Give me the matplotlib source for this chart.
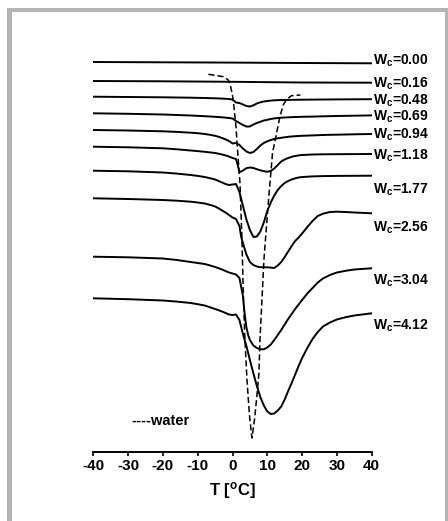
import matplotlib
matplotlib.use("Agg")
import matplotlib.pyplot as plt
from matplotlib.patches import Rectangle

plt.rcParams['font.family'] = ['Liberation Sans', 'DejaVu Sans']
plt.rcParams['font.weight'] = 'bold'
plt.rcParams['mathtext.fontset'] = 'custom'
plt.rcParams['mathtext.rm'] = 'Liberation Sans:bold'
plt.rcParams['mathtext.it'] = 'Liberation Sans:bold'
plt.rcParams['mathtext.bf'] = 'Liberation Sans:bold'
plt.rcParams['axes.unicode_minus'] = False

# DSC traces: temperature [C] and heat flow (arb. units, curves shifted vertically)
t_000 = [-40, -20, 0, 20, 40]
h_000 = [390.0, 389.7, 389.4, 389.0, 388.7]

t_016 = [-40, -20, 0, 20, 40]
h_016 = [371.0, 370.7, 370.2, 369.5, 369.3]

t_048 = [-40, -30, -20, -12, -8, -5, -3, -1, 0, 1, 2, 3, 4, 5, 6, 7, 8, 9, 10,
         11, 12, 14, 16, 18, 20, 23, 26, 30, 35, 40]
h_048 = [355.3, 355.0, 354.7, 354.3, 354.0, 353.7, 353.4, 353.0, 352.5, 349.5,
         349.0, 347.5, 346.0, 345.5, 346.7, 348.5, 349.7, 350.5, 351.0, 351.4,
         351.7, 352.0, 352.1, 352.2, 352.3, 352.4, 352.5, 352.6, 352.7, 352.8]

t_069 = [-40, -30, -20, -12, -8, -5, -3, -1, 0, 1, 2, 3, 4, 5, 6, 7, 8, 9, 10,
         11, 12, 14, 16, 18, 20, 23, 26, 30, 35, 40]
h_069 = [338.7, 338.2, 337.5, 336.5, 335.8, 335.2, 334.7, 334.0, 333.5, 331.0,
         329.0, 327.0, 325.5, 325.5, 327.5, 329.0, 330.2, 331.5, 332.2, 333.0,
         333.6, 334.3, 334.7, 335.0, 335.2, 335.4, 335.7, 336.0, 336.3, 336.6]

t_094 = [-40, -30, -20, -16, -12, -10, -8, -6.5, -5, -4, -3, -2, -1, 0, 1, 2, 3, 4,
         5, 6, 7, 8, 9, 10, 11, 12, 13, 14, 15, 16, 17, 18, 19, 20, 21.5, 23, 24.5,
         26, 28, 30, 32.5, 35, 40]
h_094 = [322.0, 321.5, 320.7, 320.1, 319.3, 318.8, 318.0, 317.2, 316.2, 315.2,
         314.0, 312.6, 311.0, 308.5, 309.0, 307.0, 303.5, 300.5, 299.0, 300.0,
         303.0, 306.5, 309.0, 310.7, 312.0, 313.0, 313.7, 314.2, 314.7, 315.2,
         315.5, 315.8, 316.0, 316.2, 316.4, 316.6, 316.8, 317.0, 317.2, 317.3,
         317.5, 317.7, 318.0]

t_118 = [-40, -30, -20, -16, -12, -10, -8, -6.5, -5, -4, -3, -2, -1, 0, 1, 1.5, 2,
         2.5, 3, 4, 5, 6, 7, 8, 9, 10, 11, 12, 13, 14, 15, 16, 17, 18, 19, 20, 23,
         26, 30, 40]
h_118 = [305.3, 304.7, 303.7, 302.7, 301.5, 300.9, 300.2, 299.6, 299.0, 298.3,
         297.5, 296.6, 295.5, 294.0, 293.0, 287.0, 280.0, 280.5, 281.5, 283.8,
         284.5, 284.0, 282.8, 281.7, 280.8, 280.3, 281.0, 283.5, 287.0, 290.5,
         292.5, 294.0, 295.2, 296.0, 296.6, 297.0, 297.5, 297.7, 297.8, 298.0]

t_177 = [-40, -30, -20, -16, -12, -10, -8, -6.5, -5, -4, -3, -2, -1, 0, 1, 2, 3, 4,
         5, 6, 7, 8, 9, 10, 11, 12, 13, 14, 15, 16, 17, 18, 19, 20, 21.5, 23, 26,
         30, 35, 40]
h_177 = [281.3, 280.7, 279.5, 278.4, 277.0, 276.1, 275.0, 273.8, 272.5, 271.0,
         269.5, 268.0, 267.0, 267.5, 268.0, 260.0, 246.0, 232.5, 222.0, 215.0,
         215.5, 220.5, 229.5, 241.0, 249.5, 256.5, 262.0, 266.0, 269.0, 271.0,
         272.5, 273.7, 274.5, 275.0, 275.3, 275.6, 275.9, 276.1, 276.2, 276.3]

t_256 = [-40, -30, -20, -16, -12, -10, -8, -6.5, -5, -4, -3, -2, -1, 0, 1, 2, 2.5,
         3, 3.5, 4, 5, 6, 7, 8, 9, 10, 11, 12, 13, 14, 15, 16, 17, 18, 19, 20, 21.5,
         23, 24.5, 26, 28, 30, 32.5, 35, 40]
h_256 = [253.7, 253.0, 252.0, 251.3, 250.3, 249.5, 248.5, 247.2, 245.5, 243.7,
         241.5, 239.5, 237.0, 234.5, 233.0, 226.0, 215.0, 209.0, 203.0, 197.5,
         190.0, 187.0, 185.5, 184.8, 184.7, 184.7, 184.4, 184.0, 186.5, 190.0,
         195.0, 200.5, 206.0, 211.0, 214.5, 218.5, 225.0, 231.0, 236.0, 238.3,
         240.0, 240.3, 240.0, 239.5, 238.7]

t_304 = [-40, -30, -20, -16, -12, -10, -8, -6.5, -5, -4, -3, -2, -1, 0, 1, 2, 2.5,
         3, 3.5, 4, 4.5, 5, 6, 7, 8, 9, 10, 11, 12, 13, 14, 15, 16, 17, 18, 19, 20,
         21.5, 23, 24.5, 26, 28, 30, 32.5, 35, 40]
h_304 = [195.3, 194.7, 193.5, 192.0, 190.0, 189.0, 188.0, 186.6, 185.0, 183.8,
         182.5, 181.0, 179.5, 178.5, 177.5, 174.0, 165.0, 156.0, 138.0, 124.5,
         117.0, 112.0, 106.5, 104.0, 102.7, 102.7, 104.5, 107.5, 112.0, 117.0,
         122.0, 127.5, 133.0, 138.0, 143.0, 147.5, 152.0, 158.5, 164.0, 169.5,
         173.5, 177.0, 179.5, 181.2, 182.5, 183.7]

t_412 = [-40, -30, -20, -16, -12, -10, -8, -6.5, -5, -4, -3, -2, -1, 0, 1, 2, 3, 4,
         5, 6, 7, 8, 9, 10, 11, 12, 13, 14, 15, 16, 17, 18, 19, 20, 21.5, 23, 24.5,
         26, 28, 30, 32.5, 35, 40]
h_412 = [153.7, 152.8, 151.5, 150.4, 149.0, 147.8, 146.5, 144.8, 143.0, 141.8,
         140.5, 139.0, 137.5, 137.0, 137.5, 132.0, 118.0, 106.0, 92.0, 78.7,
         66.0, 55.0, 46.5, 40.5, 38.0, 38.5, 41.5, 45.5, 52.5, 61.0,
         69.0, 77.5, 86.0, 94.0, 104.0, 113.0, 120.0, 125.5, 129.5, 132.5,
         134.8, 136.5, 138.7]

curves = [(t_000, h_000), (t_016, h_016), (t_048, h_048), (t_069, h_069),
          (t_094, h_094), (t_118, h_118), (t_177, h_177), (t_256, h_256),
          (t_304, h_304), (t_412, h_412)]
wc_labels = ['0.00', '0.16', '0.48', '0.69', '0.94', '1.18', '1.77', '2.56', '3.04', '4.12']
label_y = [387, 364.7, 347.7, 331.3, 313.7, 292.7, 258.7, 220.3, 167, 122]

# pure water trace
water_t = [-6.94, -2.64, -1.2, -0.52, 0.06, 0.52, 1.0, 1.38, 2.15, 2.72, 3.15, 3.58,
           4.16, 4.87, 5.59, 6.31, 7.03, 7.6, 7.89, 8.46, 9.03, 9.46, 10.47, 11.53,
           12.19, 12.85, 13.62, 14.57, 15.54, 16.97, 19.5]
water_h = [377.7, 375.3, 372.0, 365.3, 355.3, 342.0, 325.3, 305.3, 269.0, 212.0, 152.0, 112.0,
           72.0, 37.0, 14.0, 32.0, 57.0, 79.0, 112.0, 152.0, 192.0, 212.0, 257.0, 300.0,
           310.3, 322.0, 335.3, 347.0, 352.7, 356.3, 357.0]

W, H = 448, 521
fig = plt.figure(figsize=(W / 100, H / 100), dpi=100)
ax = fig.add_axes([93.3 / W, 69 / H, 278.4 / W, 412 / H])

for t, h in curves:
    ax.plot(t, h, color='black', lw=1.4, solid_joinstyle='round')
ax.plot(water_t, water_h, color='black', lw=1.1, dashes=(4, 2))

for lab, yy in zip(wc_labels, label_y):
    ax.text(40.3, yy, r'W$_c$=' + lab, ha='left', va='baseline',
            fontsize=10, fontweight='bold', clip_on=False)
ax.text(-29, 27, '----water', ha='left', va='baseline', fontsize=10.5, fontweight='bold')

ax.set_xlim(-40, 40)
ax.set_ylim(0, 412)
ax.set_xticks(range(-40, 41, 10))
ax.set_yticks([])
for s in ['left', 'right', 'top']:
    ax.spines[s].set_visible(False)
ax.spines['bottom'].set_linewidth(1.4)
ax.tick_params(axis='x', direction='out', length=3, width=1.2, pad=2, labelsize=11)
for lbl in ax.get_xticklabels():
    lbl.set_fontweight('bold')
ax.set_xlabel(r'T [$^o$C]', fontsize=12, fontweight='bold', labelpad=5)

# grey frame
frame = '#b4b4b4'
fig.add_artist(Rectangle((7 / W, 1 - 11.5 / H), 438 / W, 3.5 / H, transform=fig.transFigure, color=frame, lw=0))
fig.add_artist(Rectangle((7 / W, 0), 5 / W, 513 / H, transform=fig.transFigure, color=frame, lw=0))
fig.add_artist(Rectangle((445 / W, 0), 3 / W, 513 / H, transform=fig.transFigure, color=frame, lw=0))

fig.savefig('out.png', dpi=100)
